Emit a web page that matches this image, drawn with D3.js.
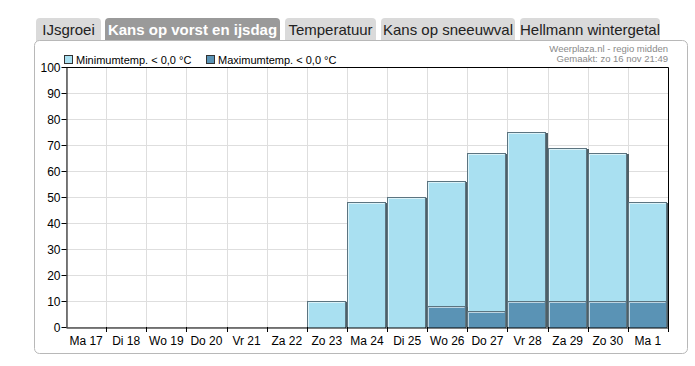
<!DOCTYPE html>
<html><head><meta charset="utf-8">
<script src="https://cdn.jsdelivr.net/npm/d3@7"></script>
<style>
body{margin:0;background:#fff;}
svg text{font-family:"Liberation Sans",Arimo,sans-serif;}
</style></head><body>
<svg id="c" width="695" height="366"></svg>
<script>
const tabs = ["IJsgroei","Kans op vorst en ijsdag","Temperatuur","Kans op sneeuwval","Hellmann wintergetal"];
const activeTab = 1;
const days = ["Ma 17","Di 18","Wo 19","Do 20","Vr 21","Za 22","Zo 23","Ma 24","Di 25","Wo 26","Do 27","Vr 28","Za 29","Zo 30","Ma 1"];
const minTemp = [0,0,0,0,0,0,10,48,50,56,67,75,69,67,48];
const maxTemp = [0,0,0,0,0,0,0,0,0,8,6,10,10,10,10];
const yTicks = [0,10,20,30,40,50,60,70,80,90,100];
const legendLabels = ["Minimumtemp. < 0,0 °C","Maximumtemp. < 0,0 °C"];
const credits = ["Weerplaza.nl - regio midden","Gemaakt: zo 16 nov 21:49"];

const svg = d3.select("#c");
// tabs
const tabX = [36,105,285,381,520];
const tabW = [65,175,91,134,140];
const tg = svg.append("g");
tabs.forEach((t,i)=>{
  const active = i===activeTab;
  tg.append("path")
    .attr("d",`M${tabX[i]},41 V22 Q${tabX[i]},18 ${tabX[i]+4},18 H${tabX[i]+tabW[i]-4} Q${tabX[i]+tabW[i]},18 ${tabX[i]+tabW[i]},22 V41 Z`)
    .attr("fill", active?"#9a9a9a":"#dadada");
  tg.append("text").attr("x",tabX[i]+tabW[i]/2).attr("y",35)
    .attr("text-anchor","middle")
    .attr("font-size", 15).attr("font-weight", active?"bold":"normal")
    .attr("fill", active?"#fff":"#222").text(t);
});
// panel
svg.append("rect").attr("x",34.5).attr("y",40.5).attr("width",653).attr("height",313)
  .attr("rx",5).attr("fill","#fff").attr("stroke","#b8b8b8");

const m = {l:66,r:668,t:67,b:327};
const x = d3.scaleBand().domain(days).range([m.l,m.r]).padding(0);
const y = d3.scaleLinear().domain([0,100]).range([m.b,m.t]);

// grid
const g = svg.append("g");
g.selectAll(".hg").data(yTicks).join("line")
  .attr("x1",m.l).attr("x2",m.r).attr("y1",d=>Math.round(y(d))+0.5).attr("y2",d=>Math.round(y(d))+0.5)
  .attr("stroke","#dedede");
g.selectAll(".vg").data(days).join("line")
  .attr("x1",d=>Math.round(x(d))+0.5).attr("x2",d=>Math.round(x(d))+0.5).attr("y1",m.t).attr("y2",m.b)
  .attr("stroke","#dedede");

// bars
function bars(data, fill){
  const bg = svg.append("g");
  const items = days.map((d,i)=>({d,v:data[i]})).filter(o=>o.v>0);
  bg.selectAll(".sh").data(items).join("rect")
    .attr("x",o=>Math.round(x(o.d))+1).attr("y",o=>Math.round(y(o.v))+1)
    .attr("width",Math.round(x.bandwidth())).attr("height",o=>m.b-Math.round(y(o.v))-1)
    .attr("fill","#4f5f66");
  bg.selectAll(".b").data(items).join("rect")
    .attr("x",o=>Math.round(x(o.d))+0.5).attr("y",o=>Math.round(y(o.v))+0.5)
    .attr("width",Math.round(x.bandwidth())-2).attr("height",o=>m.b-Math.round(y(o.v))+2)
    .attr("fill",fill).attr("stroke","#5c7480").attr("stroke-width",1);
  bg.selectAll(".hl").data(items).join("path")
    .attr("d",o=>{const x0=Math.round(x(o.d))+1.5, y0=Math.round(y(o.v))+1.5; return `M${x0},${m.b} V${y0} H${x0+Math.round(x.bandwidth())-4}`;})
    .attr("fill","none").attr("stroke","rgba(255,255,255,0.6)");
}
bars(minTemp,"#a9e0f1");
bars(maxTemp,"#5a93b5");

// cover anything below the axis
svg.append("rect").attr("x",m.l+1).attr("y",m.b+1).attr("width",m.r-m.l+4).attr("height",6).attr("fill","#fff");

// frame top/right
svg.append("path").attr("d",`M${m.l},${m.t+0.5} H${m.r+0.5} V${m.b}`).attr("fill","none").attr("stroke","#000");

// axes
const ya = svg.append("g").attr("transform",`translate(${m.l+0.5},0)`)
  .call(d3.axisLeft(y).tickValues(yTicks).tickSize(5).tickSizeOuter(0));
ya.attr("font-family",null);
ya.select(".domain").attr("stroke","#000");
ya.selectAll("text").attr("font-size",12).attr("fill","#000").attr("x",-6).attr("dy","0.35em");
const xa = svg.append("g").attr("transform",`translate(0,${m.b+0.5})`)
  .call(d3.axisBottom(x).tickSize(0).tickSizeOuter(0));
xa.attr("font-family",null);
xa.select(".domain").attr("stroke","#000");
xa.selectAll("text").attr("font-size",12).attr("fill","#000").attr("dy","0").attr("y",17);
// boundary ticks
svg.append("g").selectAll("line").data(days).join("line")
  .attr("x1",(d,i)=>Math.round(m.l+(i+1)*x.bandwidth())+0.5).attr("x2",(d,i)=>Math.round(m.l+(i+1)*x.bandwidth())+0.5)
  .attr("y1",m.b).attr("y2",m.b+5).attr("stroke","#000");

// legend
const lg = svg.append("g");
const lx = [64,206], lcol = ["#a9e0f1","#5a93b5"];
legendLabels.forEach((t,i)=>{
  lg.append("rect").attr("x",lx[i]+0.5).attr("y",55.5).attr("width",8).attr("height",8).attr("fill",lcol[i]).attr("stroke","#333");
  lg.append("text").attr("x",lx[i]+12).attr("y",63.5).attr("font-size",11).attr("fill","#000").text(t);
});
credits.forEach((t,i)=>{
  svg.append("text").attr("x",668).attr("y",52+i*10).attr("text-anchor","end")
    .attr("font-size",9.5).attr("fill","#8a8a8a").text(t);
});
</script></body></html>
